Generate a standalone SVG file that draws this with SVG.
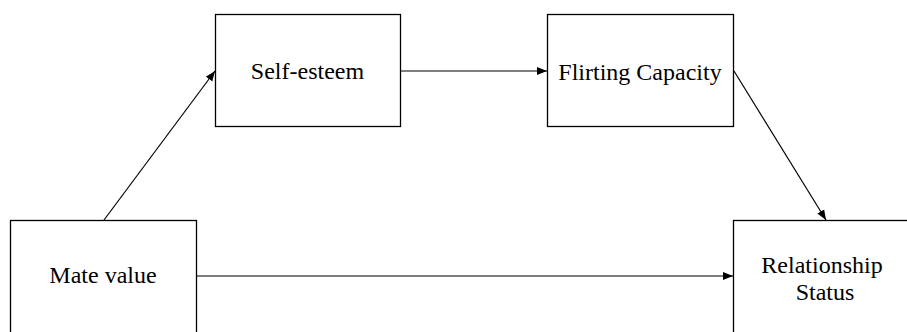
<svg xmlns="http://www.w3.org/2000/svg" width="907" height="332" viewBox="0 0 907 332">
<style>
.box{fill:#fff;stroke:#000;stroke-width:1.3}
.lbl{font-family:"Liberation Serif","Times New Roman",serif;font-size:24px;fill:#000;text-anchor:middle}
.con{stroke:#000;stroke-width:1.2;fill:none}
</style>
<defs>
<marker id="ah" viewBox="0 0 10 10" refX="10" refY="5" markerWidth="10" markerHeight="10" markerUnits="userSpaceOnUse" orient="auto">
<path d="M0,1 L10,5 L0,9 z" fill="#000"/>
</marker>
</defs>
<rect width="907" height="332" fill="#fff"/>
<g id="mate-value">
<rect class="box" x="10.5" y="220.5" width="186" height="120"/>
<text class="lbl" x="103" y="283">Mate value</text>
</g>
<g id="self-esteem">
<rect class="box" x="215.5" y="14.5" width="185" height="112"/>
<text class="lbl" x="307.5" y="79">Self-esteem</text>
</g>
<g id="flirting-capacity">
<rect class="box" x="547.5" y="14.5" width="186" height="112"/>
<text class="lbl" x="640" y="80">Flirting Capacity</text>
</g>
<g id="relationship-status">
<rect class="box" x="733.5" y="220.5" width="190" height="120"/>
<text class="lbl" x="822" y="273">Relationship</text>
<text class="lbl" x="825" y="300">Status</text>
</g>
<g id="connectors">
<line class="con" x1="104" y1="220" x2="215" y2="71" marker-end="url(#ah)"/>
<line class="con" x1="401" y1="71" x2="547" y2="71" marker-end="url(#ah)"/>
<line class="con" x1="734" y1="71" x2="826" y2="220" marker-end="url(#ah)"/>
<line class="con" x1="197" y1="276" x2="733" y2="276" marker-end="url(#ah)"/>
</g>
</svg>
